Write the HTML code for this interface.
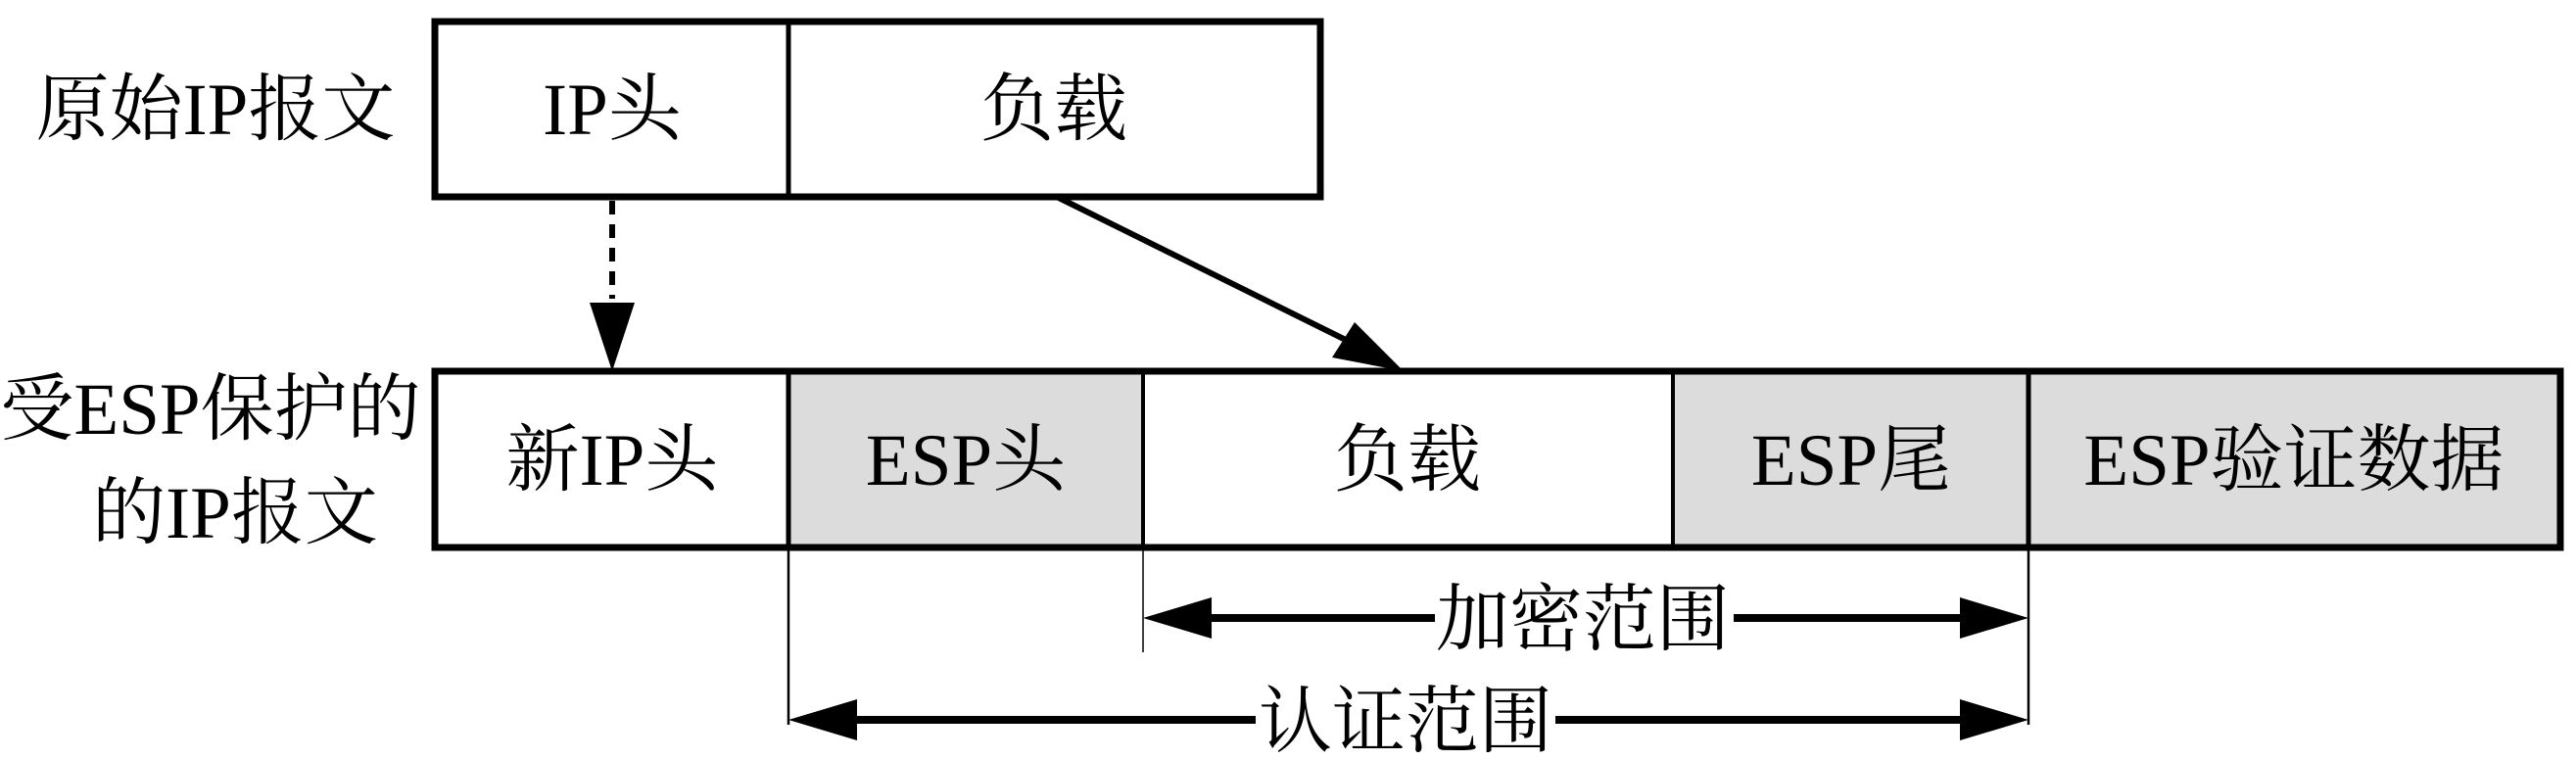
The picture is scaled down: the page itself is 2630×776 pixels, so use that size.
<!DOCTYPE html>
<html><head><meta charset="utf-8"><style>
html,body{margin:0;padding:0;background:#fff;}
svg{display:block;}
text{font-family:"Liberation Serif","Noto Serif CJK SC",serif;font-size:75px;fill:#000;}
</style></head><body>
<svg width="2630" height="776" viewBox="0 0 2630 776" xmlns="http://www.w3.org/2000/svg">
<!-- top row -->
<rect x="444" y="22" width="904" height="179" fill="#fff" stroke="#000" stroke-width="7"/>
<line x1="805" y1="22" x2="805" y2="201" stroke="#000" stroke-width="5"/>
<!-- bottom row -->
<rect x="805" y="379" width="362" height="180" fill="#dcdcdc"/>
<rect x="1708" y="379" width="906" height="180" fill="#dcdcdc"/>
<rect x="444" y="379" width="2170" height="180" fill="none" stroke="#000" stroke-width="7"/>
<line x1="805" y1="379" x2="805" y2="559" stroke="#000" stroke-width="5"/>
<line x1="1167" y1="379" x2="1167" y2="559" stroke="#000" stroke-width="4"/>
<line x1="1708" y1="379" x2="1708" y2="559" stroke="#000" stroke-width="4"/>
<line x1="2071" y1="379" x2="2071" y2="559" stroke="#000" stroke-width="5"/>
<!-- thin vertical lines -->
<line x1="805" y1="559" x2="805" y2="740" stroke="#000" stroke-width="2.5"/>
<line x1="1167" y1="559" x2="1167" y2="666" stroke="#000" stroke-width="1.5"/>
<line x1="2071" y1="559" x2="2071" y2="740" stroke="#000" stroke-width="2.5"/>
<!-- dashed arrow -->
<line x1="625" y1="205" x2="625" y2="305" stroke="#000" stroke-width="6" stroke-dasharray="14,10"/>
<polygon points="602,309 648,309 625,379" fill="#000"/>
<!-- solid diagonal arrow -->
<line x1="1079" y1="201" x2="1390" y2="355" stroke="#000" stroke-width="6"/>
<polygon points="1433,379 1360,365 1383,329" fill="#000"/>
<!-- encryption range arrow -->
<line x1="1230" y1="631" x2="2010" y2="631" stroke="#000" stroke-width="8"/>
<polygon points="1167,631 1237,610 1237,652" fill="#000"/>
<polygon points="2071,631 2001,610 2001,652" fill="#000"/>
<rect x="1465" y="595" width="305" height="75" fill="#fff"/>
<text x="1616" y="658" text-anchor="middle">加密范围</text>
<!-- auth range arrow -->
<line x1="870" y1="735" x2="2010" y2="735" stroke="#000" stroke-width="8"/>
<polygon points="805,735 875,714 875,756" fill="#000"/>
<polygon points="2071,735 2001,714 2001,756" fill="#000"/>
<rect x="1282" y="700" width="306" height="76" fill="#fff"/>
<text x="1435" y="762" text-anchor="middle">认证范围</text>
<!-- labels -->
<text x="220" y="137" text-anchor="middle">原始IP报文</text>
<text x="625" y="137" text-anchor="middle">IP头</text>
<text x="1076" y="137" text-anchor="middle">负载</text>
<text x="215" y="443" text-anchor="middle">受ESP保护的</text>
<text x="240" y="549" text-anchor="middle">的IP报文</text>
<text x="625" y="495" text-anchor="middle">新IP头</text>
<text x="986" y="495" text-anchor="middle">ESP头</text>
<text x="1437" y="495" text-anchor="middle">负载</text>
<text x="1890" y="495" text-anchor="middle">ESP尾</text>
<text x="2342" y="495" text-anchor="middle">ESP验证数据</text>
</svg>
</body></html>
